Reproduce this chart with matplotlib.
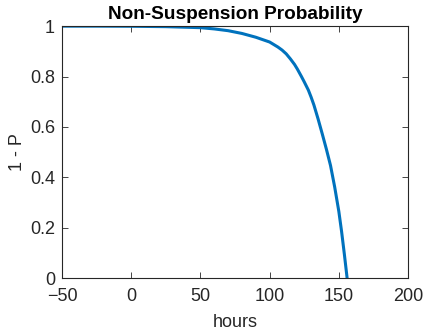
import matplotlib
matplotlib.use('Agg')
import matplotlib.pyplot as plt

# values
hours = [-50, -25, 0, 25, 50, 60, 70, 80, 90, 100, 106, 109, 112, 115, 118, 120, 123,
         125, 128, 130, 132, 135, 138, 141, 144, 147, 150, 152, 154, 156]
non_susp = [1.0, 1.0, 0.9995, 0.998, 0.994, 0.989, 0.982, 0.971, 0.956, 0.937, 0.917,
            0.905, 0.890, 0.870, 0.848, 0.830, 0.800, 0.779, 0.746, 0.718, 0.687,
            0.632, 0.573, 0.512, 0.447, 0.362, 0.265, 0.185, 0.095, 0.0]
xticks = [-50, 0, 50, 100, 150, 200]
yticks = [0, 0.2, 0.4, 0.6, 0.8, 1]
ytick_labels = ['0', '0.2', '0.4', '0.6', '0.8', '1']

plt.rcParams['font.family'] = ['Liberation Sans', 'DejaVu Sans']
dark = '#262626'

fig = plt.figure(figsize=(4.25, 3.31), dpi=100)
ax = fig.add_axes([0.146, 0.160, 0.814, 0.761])
ax.plot(hours, non_susp, color='#0072BD', linewidth=2.2)

ax.set_xlim(-50, 200)
ax.set_ylim(0, 1)
ax.set_xticks(xticks)
ax.set_yticks(yticks)
ax.set_yticklabels(ytick_labels)
ax.tick_params(direction='in', top=True, right=True, length=4, width=0.6,
               labelsize=13, colors=dark)
ax.tick_params(axis='x', pad=7)
ax.tick_params(axis='y', pad=5)
for s in ax.spines.values():
    s.set_color(dark)
    s.set_linewidth(0.8)

ax.set_xlabel('hours', fontsize=13, color=dark, labelpad=7)
ax.set_ylabel('1 - P', fontsize=13, color=dark, labelpad=3)
ax.set_title('Non-Suspension Probability', fontsize=13.7, fontweight='bold', pad=5)

fig.savefig('out.png', dpi=100)
